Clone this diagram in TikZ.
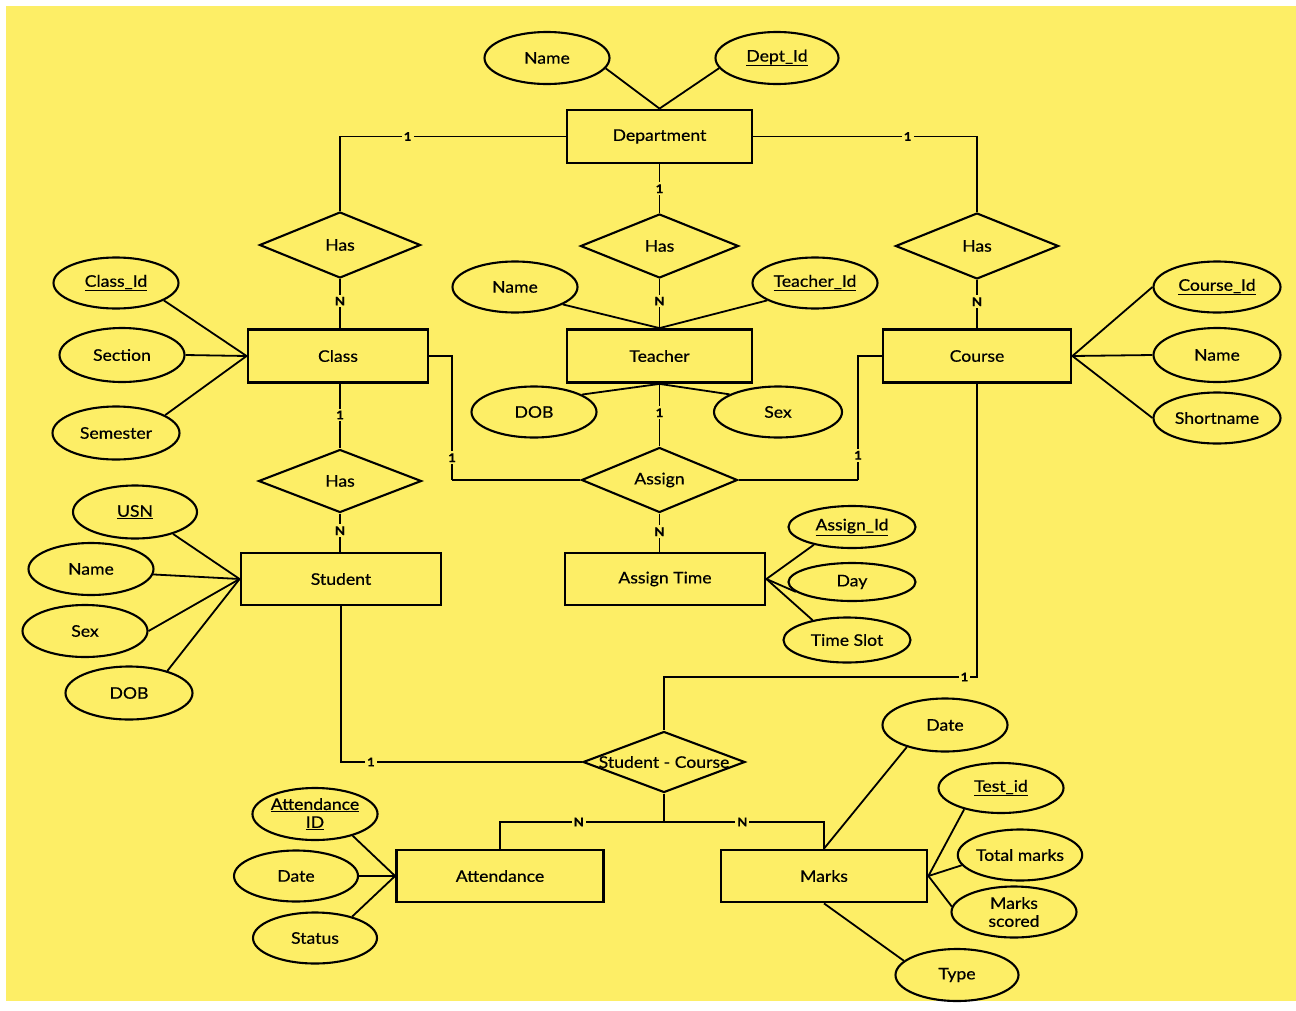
\documentclass[tikz,border=0pt]{standalone}
\usepackage{fontspec}
\setmainfont{Lato}[FakeStretch=1.1,FakeBold=0.5]
\usetikzlibrary{shapes.geometric}
\definecolor{bgy}{HTML}{FDEE66}
\newcommand\zw[1]{\makebox[0pt]{#1}}
\begin{document}
\begin{tikzpicture}[x=1pt,y=-1pt,
 every node/.style={font=\fontsize{16}{18}\selectfont},
 ent/.style={draw, rectangle, line width=2.8pt, minimum height=53pt, inner sep=0pt},
 attr/.style={draw, ellipse, line width=2.1pt, minimum width=125pt, minimum height=52pt, inner sep=0pt, align=center},
 rel/.style={draw, diamond, line width=2.1pt, inner sep=0pt},
 conn/.style={line width=1.8pt},
 thickconn/.style={line width=2.8pt},
 lab/.style={fill=bgy, inner sep=2pt, font=\bfseries\fontsize{12}{13}\selectfont},
]
\useasboundingbox (0,0) rectangle (1296,1010);
\fill[white] (0,0) rectangle (1296,1010);
\fill[bgy] (6,6) rectangle (1296,1001);

% entities
\node[ent, minimum width=185pt] (dept) at (659.5,136.5) {Department};
\node[ent, minimum width=180pt] (class) at (338,356) {Class};
\node[ent, minimum width=185pt] (teacher) at (659.5,356) {Teacher};
\node[ent, minimum width=188pt] (course) at (977,356) {Course};
\node[ent, minimum width=200pt, minimum height=52pt] (student) at (341,579) {Student};
\node[ent, minimum width=200pt, minimum height=52pt] (atime) at (665,579) {Assign Time};
\node[ent, minimum width=207pt, minimum height=52pt] (attend) at (500,876) {Attendance};
\node[ent, minimum width=206pt, minimum height=52pt] (marks) at (824,876) {Marks};

% relationships
\node[rel, minimum width=161pt, minimum height=66pt] (has1) at (340,245) {\zw{Has}};
\node[rel, minimum width=158pt, minimum height=64pt] (has2) at (659.5,246) {\zw{Has}};
\node[rel, minimum width=163pt, minimum height=66pt] (has3) at (977,246) {\zw{Has}};
\node[rel, minimum width=163pt, minimum height=63pt] (has4) at (340,481) {\zw{Has}};
\node[rel, minimum width=156pt, minimum height=65pt] (assign) at (659.5,480) {\zw{Assign}};
\node[rel, minimum width=162pt, minimum height=61pt] (sc) at (664,762) {\zw{Student - Course}};

% attributes
\node[attr] (dname) at (547,58) {Name};
\node[attr, minimum width=123pt] (deptid) at (777,58) {\underline{Dept\_Id}};
\node[attr, minimum height=51pt] (classid) at (116,283) {\underline{Class\_Id}};
\node[attr, minimum height=54pt] (section) at (122,355) {Section};
\node[attr, minimum width=127pt, minimum height=53pt] (semester) at (116,433) {Semester};
\node[attr, minimum height=51pt] (tname) at (515,287) {Name};
\node[attr, minimum height=51pt] (teacherid) at (815,283) {\underline{Teacher\_Id}};
\node[attr, minimum height=51pt] (tdob) at (534,412) {DOB};
\node[attr, minimum width=128pt, minimum height=51pt] (tsex) at (778,412) {Sex};
\node[attr, minimum width=127pt, minimum height=51pt] (courseid) at (1217,287) {\underline{Course\_Id}};
\node[attr, minimum width=127pt, minimum height=54pt] (cname) at (1217,355) {Name};
\node[attr, minimum width=127pt, minimum height=51pt] (shortname) at (1217,418) {Shortname};
\node[attr, minimum width=127pt, minimum height=42pt] (assignid) at (852,527) {\underline{Assign\_Id}};
\node[attr, minimum width=127pt, minimum height=38pt] (day) at (852,582) {Day};
\node[attr, minimum width=127pt, minimum height=45pt] (timeslot) at (847,640) {Time Slot};
\node[attr, minimum width=124pt, minimum height=53pt] (usn) at (135,512) {\underline{USN}};
\node[attr] (sname) at (91,569) {Name};
\node[attr] (ssex) at (85,631) {Sex};
\node[attr, minimum width=127pt, minimum height=53pt] (sdob) at (129,693) {DOB};
\node[attr, minimum width=124pt] (attid) at (315,814) {\underline{Attendance}\\\underline{ID}};
\node[attr, minimum width=124pt, minimum height=51pt] (adate) at (296,876) {Date};
\node[attr, minimum width=124pt, minimum height=51pt] (status) at (315,938) {Status};
\node[attr, minimum height=53pt] (mdate) at (945,725) {Date};
\node[attr, minimum height=50pt] (testid) at (1001,788) {\underline{Test\_id}};
\node[attr, minimum width=123pt, minimum height=51pt] (total) at (1020,855) {Total marks};
\node[attr, minimum height=51pt] (mscored) at (1014,912) {Marks\\scored};
\node[attr, minimum width=123pt] (type) at (957,975) {Type};

% attribute links
\draw[conn] (dname.-10) -- (dept.north);
\draw[conn] (deptid.190) -- (dept.north);
\draw[conn] (classid.-20) -- (class.west);
\draw[conn] (section.east) -- (class.west);
\draw[conn] (semester.20) -- (class.west);
\draw[conn] (tname.-20) -- (teacher.north);
\draw[conn] (teacherid.200) -- (teacher.north);
\draw[conn] (tdob.20) -- (teacher.south);
\draw[conn] (tsex.160) -- (teacher.south);
\draw[conn] (courseid.west) -- (course.east);
\draw[conn] (cname.west) -- (course.east);
\draw[conn] (shortname.west) -- (course.east);
\draw[conn] (assignid.205) -- (atime.east);
\draw[conn] (day.190) -- (atime.east);
\draw[conn] (timeslot.150) -- (atime.east);
\draw[conn] (usn.-30) -- (student.west);
\draw[conn] (sname.-5) -- (student.west);
\draw[conn] (ssex.east) -- (student.west);
\draw[conn] (sdob.30) -- (student.west);
\draw[conn] (attid.-30) -- (attend.west);
\draw[conn] (adate.east) -- (attend.west);
\draw[conn] (status.30) -- (attend.west);
\draw[conn] (mdate.210) -- (marks.north);
\draw[conn] (testid.210) -- (marks.east);
\draw[conn] (total.190) -- (marks.east);
\draw[conn] (mscored.175) -- (marks.east);
\draw[conn] (marks.south) -- (type.165);

% relationship links
\draw[conn] (dept.west) -| (has1.north) node[lab, pos=0.35] {1};
\draw[conn] (dept.east) -| (has3.north) node[lab, pos=0.345] {1};
\draw[conn] (dept.south) -- (dept.south |- has2.north) node[lab, midway] {1};
\draw[conn] (has1.south) -- (has1.south |- class.north) node[lab, pos=0.45] {N};
\draw[conn] (has2.south) -- (has2.south |- teacher.north) node[lab, pos=0.45] {N};
\draw[conn] (has3.south) -- (has3.south |- course.north) node[lab, pos=0.45] {N};
\draw[conn] (class.south -| has4.north) -- (has4.north) node[lab, pos=0.48] {1};
\draw[conn] (has4.south) -- (has4.south |- student.north) node[lab, pos=0.45] {N};
\draw[conn] (teacher.south) -- (assign.north) node[lab, pos=0.46] {1};
\draw[conn] (assign.south) -- (assign.south |- atime.north) node[lab, pos=0.48] {N};
\coordinate (ca) at (452,480);
\coordinate (cb) at (858,480);
\draw[conn] (class.east) -| (ca) node[lab, pos=0.91] {1};
\draw[thickconn] (ca) -- (assign.west);
\draw[conn] (course.west) -| (cb) node[lab, pos=0.9] {1};
\draw[thickconn] (cb) -- (assign.east);
\draw[conn] (student.south) |- (sc.west) node[lab, pos=0.562] {1};
\coordinate (cc) at (977,677);
\draw[conn] (course.south) -- (cc) -| (sc.north) node[lab, pos=0.02] {1};
\coordinate (sb) at (664,822);
\draw[conn] (sc.south) -- (sb);
\draw[conn] (sb) -| (attend.north) node[lab, pos=0.26] {N};
\draw[conn] (sb) -| (marks.north) node[lab, pos=0.245] {N};
\end{tikzpicture}
\end{document}
